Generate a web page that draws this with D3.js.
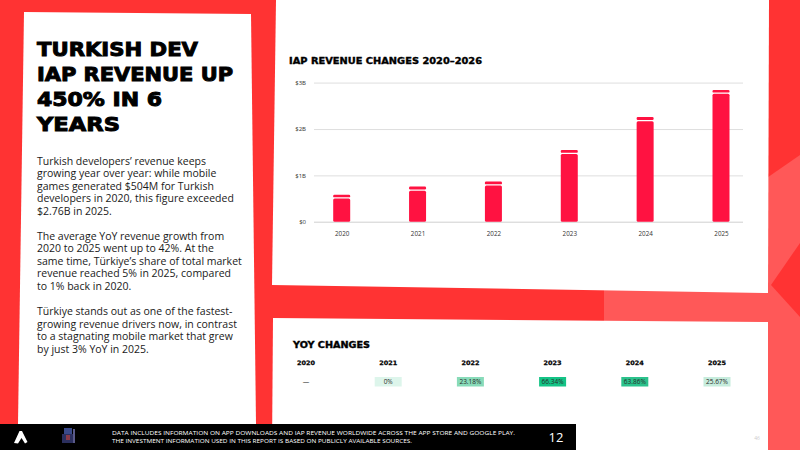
<!DOCTYPE html>
<html>
<head>
<meta charset="utf-8">
<script src="https://cdn.jsdelivr.net/npm/d3@7/dist/d3.min.js"></script>
<style>
  body { margin: 0; background: #ff3333; }
  svg { display: block; }
</style>
</head>
<body>
<svg id="page" width="800" height="450"></svg>
<script>
// ---- data ----
var years = ["2020", "2021", "2022", "2023", "2024", "2025"];
var revenue = [0.50, 0.67, 0.78, 1.46, 2.17, 2.76];      // $B, main bar
var capSegment = [0.08, 0.09, 0.09, 0.09, 0.09, 0.08];   // thin top segment
var yTicks = [0, 1, 2, 3];
var yTickLabels = ["$0", "$1B", "$2B", "$3B"];
var yoyLabels = ["—", "0%", "23.18%", "66.34%", "63.86%", "25.67%"];
var cellColors = [null, "#ddf5eb", "#88dbb9", "#14c486", "#2bc28c", "#c6ecdc"];

var titleLines = ["TURKISH DEV", "IAP REVENUE UP", "450% IN 6", "YEARS"];
var titleWidths = [161, 196, 125, 83];
var bodyLines = [
  "Turkish developers’ revenue keeps",
  "growing year over year: while mobile",
  "games generated $504M for Turkish",
  "developers in 2020, this figure exceeded",
  "$2.76B in 2025.",
  "",
  "The average YoY revenue growth from",
  "2020 to 2025 went up to 42%. At the",
  "same time, Türkiye’s share of total market",
  "revenue reached 5% in 2025, compared",
  "to 1% back in 2020.",
  "",
  "Türkiye stands out as one of the fastest-",
  "growing revenue drivers now, in contrast",
  "to a stagnating mobile market that grew",
  "by just 3% YoY in 2025."
];
var footerLines = [
  "DATA INCLUDES INFORMATION ON APP DOWNLOADS AND IAP REVENUE WORLDWIDE ACROSS THE APP STORE AND GOOGLE PLAY.",
  "THE INVESTMENT INFORMATION USED IN THIS REPORT IS BASED ON PUBLICLY AVAILABLE SOURCES."
];
var footerWidths = [403, 300];

var svg = d3.select("#page");
var heavy = "'DejaVu Sans', sans-serif";
var body = "'Open Sans', 'Noto Sans', sans-serif";

// ---- background decoration ----
svg.append("rect").attr("width", 800).attr("height", 450).attr("fill", "#ff3333");
svg.append("polygon").attr("points", "604,290 800,155 800,450 604,450").attr("fill", "#ff5858");
svg.append("polygon").attr("points", "771,285 800,243 800,317").attr("fill", "#ff3333");

// ---- panels ----
svg.append("polygon").attr("points", "24,12 251,14 256,424 18,424").attr("fill", "#fff");
svg.append("polygon").attr("points", "276,0 769,0 768,293 272,285").attr("fill", "#fff");
svg.append("polygon").attr("points", "273,318 768,322 768,450 272,450").attr("fill", "#fff");

// ---- left panel text ----
var tg = svg.append("g");
titleLines.forEach(function(t, i) {
  tg.append("text")
    .attr("x", 37).attr("y", 56 + i * 25)
    .attr("font-family", heavy).attr("font-weight", 700)
    .attr("font-size", 20)
    .attr("textLength", titleWidths[i]).attr("lengthAdjust", "spacingAndGlyphs")
    .attr("fill", "#000").attr("stroke", "#000").attr("stroke-width", 1)
    .text(t);
});
bodyLines.forEach(function(t, i) {
  tg.append("text")
    .attr("x", 37).attr("y", 164.5 + i * 12.55)
    .attr("font-family", body).attr("font-size", 10.5)
    .attr("fill", "#1a1a1a")
    .text(t);
});

// ---- bar chart ----
var chart = svg.append("g");
chart.append("text")
  .attr("x", 289).attr("y", 63.5)
  .attr("font-family", heavy).attr("font-weight", 700).attr("font-size", 9.5)
  .attr("textLength", 193).attr("lengthAdjust", "spacingAndGlyphs")
  .attr("stroke", "#000").attr("stroke-width", 0.4)
  .text("IAP REVENUE CHANGES 2020–2026");

var x = d3.scalePoint().domain(years).range([341.7, 721]);
var y = d3.scaleLinear().domain([0, 3]).range([221.7, 82.7]);
var gridLeft = 314, gridRight = 743, barW = 17;

var yAxis = d3.axisLeft(y).tickValues(yTicks)
  .tickSize(-(gridRight - gridLeft))
  .tickFormat(function(d, i) { return yTickLabels[i]; });
var ya = chart.append("g")
  .attr("transform", "translate(" + gridLeft + ",0)")
  .call(yAxis);
ya.select(".domain").remove();
ya.selectAll(".tick line")
  .attr("stroke", function(d) { return d === 3 ? "#ececec" : (d === 0 ? "#cfcfcf" : "#dedede"); })
  .attr("stroke-width", function(d) { return d === 3 ? 1.8 : 1; });
ya.selectAll(".tick text")
  .attr("x", -8).attr("font-family", body).attr("font-size", 6).attr("fill", "#333");

var bars = chart.append("g").selectAll("g").data(years).enter().append("g");
bars.append("rect")
  .attr("x", function(d) { return x(d) - barW / 2; })
  .attr("y", function(d, i) { return y(revenue[i]); })
  .attr("width", barW)
  .attr("height", function(d, i) { return y(0) - y(revenue[i]); })
  .attr("rx", 1.5)
  .attr("fill", "#ff1241");
bars.append("rect")
  .attr("x", function(d) { return x(d) - barW / 2; })
  .attr("y", function(d, i) { return y(revenue[i] + capSegment[i]); })
  .attr("width", barW)
  .attr("height", function(d, i) { return y(revenue[i]) - y(revenue[i] + capSegment[i]) - 1.2; })
  .attr("rx", 1.2)
  .attr("fill", "#ff1241");

var xa = chart.append("g")
  .attr("transform", "translate(0," + y(0) + ")")
  .call(d3.axisBottom(x).tickSize(0).tickPadding(10));
xa.select(".domain").remove();
xa.selectAll(".tick text").attr("font-family", body).attr("font-size", 6.3).attr("fill", "#333");

// ---- YoY table ----
var yoy = svg.append("g");
yoy.append("text")
  .attr("x", 293).attr("y", 348)
  .attr("font-family", heavy).attr("font-weight", 700).attr("font-size", 9.5)
  .attr("textLength", 77).attr("lengthAdjust", "spacingAndGlyphs")
  .attr("stroke", "#000").attr("stroke-width", 0.4)
  .text("YOY CHANGES");

var cx = d3.scalePoint().domain(years).range([306, 717]);
yoy.selectAll(".hdr").data(years).enter().append("text")
  .attr("class", "hdr")
  .attr("x", function(d) { return cx(d); }).attr("y", 365)
  .attr("text-anchor", "middle")
  .attr("font-family", heavy).attr("font-weight", 700).attr("font-size", 6)
  .attr("textLength", 18).attr("lengthAdjust", "spacingAndGlyphs")
  .attr("stroke", "#000").attr("stroke-width", 0.25)
  .text(function(d) { return d; });

var cells = yoy.selectAll(".cell").data(years).enter().append("g").attr("class", "cell");
cells.filter(function(d, i) { return cellColors[i]; }).append("rect")
  .attr("x", function(d) { return cx(d) - 13.5; }).attr("y", 377)
  .attr("width", 27).attr("height", 9.5)
  .attr("fill", function(d) { return cellColors[years.indexOf(d)]; });
cells.append("text")
  .attr("x", function(d) { return cx(d); }).attr("y", 384.3)
  .attr("text-anchor", "middle")
  .attr("font-family", body).attr("font-size", 6.5).attr("fill", "#2a2a2a")
  .text(function(d, i) { return yoyLabels[i]; });

// ---- footer ----
var ft = svg.append("g");
ft.append("rect").attr("x", 0).attr("y", 424).attr("width", 576).attr("height", 26).attr("fill", "#000");
ft.append("polygon")
  .attr("points", "14,443 19.5,431 22,431 27.5,442 25,443.5 21.5,438 18,443.5")
  .attr("fill", "#fff");
// small pixel-art mascot
ft.append("rect").attr("x", 64).attr("y", 428).attr("width", 8).attr("height", 6).attr("fill", "#3b4a8a");
ft.append("rect").attr("x", 62).attr("y", 434).attr("width", 12).attr("height", 9).attr("fill", "#2b2f5e");
ft.append("rect").attr("x", 66).attr("y", 435).attr("width", 4).attr("height", 5).attr("fill", "#8a3a4a");
ft.append("rect").attr("x", 73).attr("y", 429).attr("width", 2).attr("height", 14).attr("fill", "#5a5a8a");
footerLines.forEach(function(t, i) {
  ft.append("text")
    .attr("x", 112).attr("y", 435 + i * 7.5)
    .attr("font-family", body).attr("font-size", 5.6)
    .attr("textLength", footerWidths[i]).attr("lengthAdjust", "spacingAndGlyphs")
    .attr("fill", "#fff")
    .text(t);
});
ft.append("text")
  .attr("x", 556).attr("y", 442).attr("text-anchor", "middle")
  .attr("font-family", body).attr("font-size", 13).attr("fill", "#fff")
  .text("12");
svg.append("text")
  .attr("x", 757).attr("y", 440).attr("text-anchor", "middle")
  .attr("font-family", body).attr("font-size", 5).attr("fill", "#cccccc")
  .text("46");
</script>
</body>
</html>
